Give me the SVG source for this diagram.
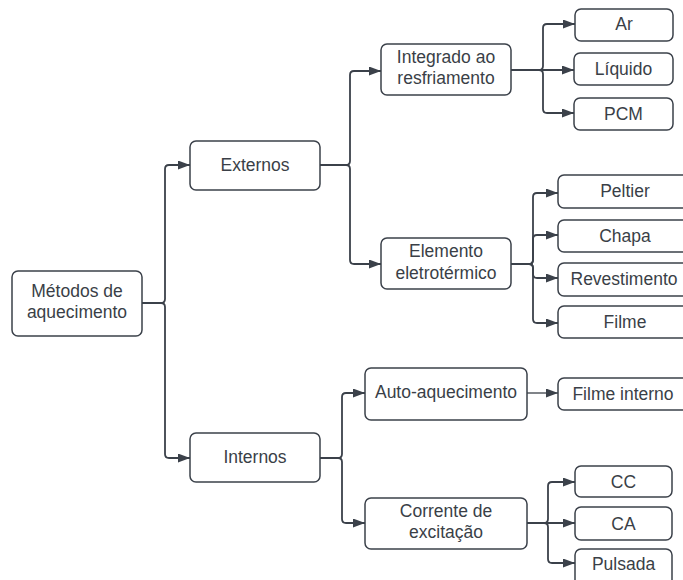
<svg xmlns="http://www.w3.org/2000/svg" width="683" height="580" viewBox="0 0 683 580">
<defs>
<style>
.box{fill:#ffffff;stroke:#3b414a;stroke-width:1.5}
.t{font-family:"Liberation Sans",Arial,sans-serif;font-size:17.5px;fill:#3a3f47;text-anchor:middle}
.c{fill:none;stroke:#3b414a;stroke-width:1.8;marker-end:url(#ah)}
</style>
<marker id="ah" markerUnits="userSpaceOnUse" markerWidth="13" markerHeight="10" refX="12" refY="4.5" orient="auto">
<path d="M0,0 L12,4.5 L0,9 z" fill="#3b414a"/>
</marker>
</defs>
<rect width="683" height="580" fill="#ffffff"/>
<g id="connectors">
<path class="c" d="M142,303 H161 Q165,303 165,299 V169 Q165,165 169,165 H190"/>
<path class="c" d="M142,303 H161 Q165,303 165,307 V454 Q165,458 169,458 H190"/>
<path class="c" d="M320,165 H346 Q350,165 350,161 V75 Q350,71 354,71 H381"/>
<path class="c" d="M320,165 H346 Q350,165 350,169 V260 Q350,264 354,264 H381"/>
<path class="c" d="M511,70 H539 Q543,70 543,66 V28 Q543,24 547,24 H575"/>
<path class="c" d="M511,70 H574"/>
<path class="c" d="M511,70 H539 Q543,70 543,74 V109 Q543,113 547,113 H574"/>
<path class="c" d="M511,264 H529 Q533,264 533,260 V197 Q533,193 537,193 H558"/>
<path class="c" d="M511,264 H529 Q533,264 533,260 V239 Q533,235 537,235 H558"/>
<path class="c" d="M511,264 H529 Q533,264 533,268 V274 Q533,278 537,278 H558"/>
<path class="c" d="M511,264 H529 Q533,264 533,268 V319 Q533,323 537,323 H558"/>
<path class="c" d="M320,458 H338 Q342,458 342,454 V397 Q342,393 346,393 H365"/>
<path class="c" d="M320,458 H338 Q342,458 342,462 V519 Q342,523 346,523 H365"/>
<path class="c" d="M527,393 H558" style="stroke-width:1.3"/>
<path class="c" d="M527,523 H544 Q548,523 548,519 V486 Q548,482 552,482 H575"/>
<path class="c" d="M527,523 H575"/>
<path class="c" d="M527,523 H544 Q548,523 548,527 V559 Q548,563 552,563 H575"/>
</g>
<g id="metodos"><rect class="box" x="12" y="271" width="130" height="65" rx="6"/><text class="t" x="77" y="297">Métodos de</text><text class="t" x="77" y="318">aquecimento</text></g>
<g id="externos"><rect class="box" x="190" y="141" width="130" height="49" rx="6"/><text class="t" x="255" y="171">Externos</text></g>
<g id="internos"><rect class="box" x="190" y="433" width="130" height="49" rx="6"/><text class="t" x="255" y="463">Internos</text></g>
<g id="integrado"><rect class="box" x="381" y="44" width="130" height="51" rx="6"/><text class="t" x="446" y="63">Integrado ao</text><text class="t" x="446" y="84">resfriamento</text></g>
<g id="elemento"><rect class="box" x="381" y="238" width="130" height="51" rx="6"/><text class="t" x="446" y="257">Elemento</text><text class="t" x="446" y="279">eletrotérmico</text></g>
<g id="auto"><rect class="box" x="365" y="368" width="162" height="52" rx="6"/><text class="t" x="446" y="398">Auto-aquecimento</text></g>
<g id="corrente"><rect class="box" x="365" y="498" width="162" height="51" rx="6"/><text class="t" x="446" y="517">Corrente de</text><text class="t" x="446" y="538">excitação</text></g>
<g id="ar"><rect class="box" x="575" y="9" width="98" height="32" rx="6"/><text class="t" x="624" y="30">Ar</text></g>
<g id="liquido"><rect class="box" x="574" y="53" width="99" height="32" rx="6"/><text class="t" x="623.5" y="75">Líquido</text></g>
<g id="pcm"><rect class="box" x="574" y="98" width="99" height="32" rx="6"/><text class="t" x="623.5" y="120">PCM</text></g>
<g id="peltier"><rect class="box" x="558" y="175" width="134" height="33" rx="6"/><text class="t" x="625" y="197">Peltier</text></g>
<g id="chapa"><rect class="box" x="558" y="220" width="134" height="32" rx="6"/><text class="t" x="625" y="242">Chapa</text></g>
<g id="revestimento"><rect class="box" x="558" y="263" width="134" height="33" rx="6"/><text class="t" x="624" y="285">Revestimento</text></g>
<g id="filme"><rect class="box" x="558" y="306" width="134" height="32" rx="6"/><text class="t" x="625" y="328">Filme</text></g>
<g id="filme-interno"><rect class="box" x="558" y="378" width="134" height="32" rx="6"/><text class="t" x="623" y="400">Filme interno</text></g>
<g id="cc"><rect class="box" x="575" y="466" width="97" height="31" rx="6"/><text class="t" x="623.5" y="488">CC</text></g>
<g id="ca"><rect class="box" x="575" y="507" width="97" height="33" rx="6"/><text class="t" x="623.5" y="530">CA</text></g>
<g id="pulsada"><rect class="box" x="575" y="549" width="97" height="40" rx="6"/><text class="t" x="623.5" y="570">Pulsada</text></g>
</svg>
